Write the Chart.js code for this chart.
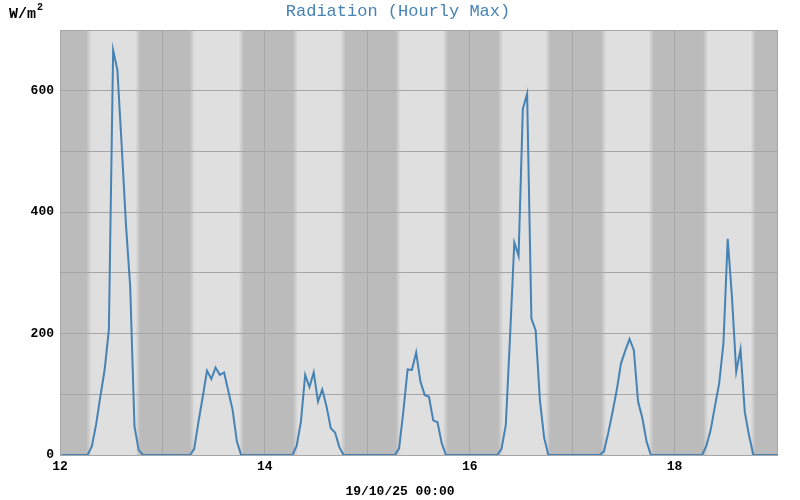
<!DOCTYPE html>
<html>
<head>
<meta charset="utf-8">
<script src="https://cdn.jsdelivr.net/npm/chart.js@4/dist/chart.umd.min.js"></script>
<style>
  body { margin: 0; background: #fff; }
  canvas { display: block; }
</style>
</head>
<body>
<canvas id="radChart" width="800" height="500"></canvas>
<script>
// 1時間ごとの最大日射量 (W/m²) 各日 00時〜23時
const day12 = [0,0,0,0,0,0,0,14,50,96,140,206,667,634,510,380,277,47,8,0,0,0,0,0];
const day13 = [0,0,0,0,0,0,0,10,55,96,139,125,144,132,136,105,74,22,0,0,0,0,0,0];
const day14 = [0,0,0,0,0,0,0,15,55,132,112,136,88,108,80,44,37,13,0,0,0,0,0,0];
const day15 = [0,0,0,0,0,0,0,11,72,141,140,169,121,99,96,57,54,19,0,0,0,0,0,0];
const day16 = [0,0,0,0,0,0,0,10,49,195,350,328,570,595,225,205,90,28,0,0,0,0,0,0];
const day17 = [0,0,0,0,0,0,0,6,36,70,107,151,172,191,173,88,61,22,0,0,0,0,0,0];
const day18 = [0,0,0,0,0,0,0,15,41,80,118,184,356,260,137,174,71,32,0,0,0,0,0,0];
const day19 = [0];

const firstDay = 12;
const sampleOffset = 0.45; // 各時間の記録位置 (時)

// 日の出・日の入り (時)
const sunrise = [6.65, 6.85, 7.05, 7.1, 7.1, 7.25, 7.15];
const sunset  = [18.35, 18.6, 18.45, 18.45, 18.45, 18.65, 18.5];

const yTicks = [0, 200, 400, 600];
const xTickLabels = [12, 14, 16, 18];

const titleText = 'Radiation (Hourly Max)';
const unitText = 'W/m';
const dateText = '19/10/25 00:00';

const hourly = [].concat(day12, day13, day14, day15, day16, day17, day18, day19);
const points = hourly.map((v, i) => ({ x: firstDay + (i + sampleOffset) / 24, y: v }));

const monoFont = '"Liberation Mono", "DejaVu Sans Mono", monospace';
const lineColor = '#4682b4';

// --- 昼夜の背景 ---
const shadingPlugin = {
    id: 'shading',
    beforeDraw(chart) {
        const { ctx, chartArea: a, scales: { x } } = chart;
        ctx.save();
        ctx.fillStyle = '#bbbbbb';
        ctx.fillRect(a.left, a.top, a.right - a.left, a.bottom - a.top);
        sunrise.forEach((rise, d) => {
            const p0 = x.getPixelForValue(firstDay + d + rise / 24);
            const p1 = x.getPixelForValue(firstDay + d + sunset[d] / 24);
            const g0 = p0 - 2, g1 = p1 + 2;
            const w = g1 - g0;
            const grad = ctx.createLinearGradient(g0, 0, g1, 0);
            grad.addColorStop(0, '#bbbbbb');
            grad.addColorStop(5 / w, '#dfdfdf');
            grad.addColorStop(1 - 5 / w, '#dfdfdf');
            grad.addColorStop(1, '#bbbbbb');
            ctx.fillStyle = grad;
            ctx.fillRect(g0, a.top, w, a.bottom - a.top);
        });
        ctx.restore();
    }
};

// --- タイトルなどのテキスト ---
const textPlugin = {
    id: 'texts',
    afterDraw(chart) {
        const ctx = chart.ctx;
        ctx.save();
        ctx.textBaseline = 'middle';
        ctx.textAlign = 'center';
        ctx.fillStyle = lineColor;
        ctx.font = '17px ' + monoFont;
        ctx.fillText(titleText, 398, 11);

        // 単位 W/m² (2 は上付き)
        ctx.fillStyle = '#000';
        ctx.textAlign = 'left';
        ctx.font = 'bold 15px ' + monoFont;
        ctx.fillText(unitText, 9, 14);
        const w = ctx.measureText(unitText).width;
        ctx.font = 'bold 10px ' + monoFont;
        ctx.fillText('2', 9 + w + 1, 7);

        ctx.textAlign = 'center';
        ctx.font = 'bold 13px ' + monoFont;
        ctx.fillText(dateText, 400, 492);
        ctx.restore();
    }
};

const ctx = document.getElementById('radChart').getContext('2d');
new Chart(ctx, {
    type: 'line',
    data: {
        datasets: [{
            data: points,
            borderColor: lineColor,
            borderWidth: 2,
            pointRadius: 0,
            tension: 0,
            fill: false
        }]
    },
    options: {
        responsive: false,
        animation: false,
        devicePixelRatio: 1,
        layout: { padding: { top: 30, right: 23, left: 0, bottom: 0 } },
        plugins: { legend: { display: false }, tooltip: { enabled: false } },
        scales: {
            x: {
                type: 'linear',
                min: 12,
                max: 19,
                afterFit: s => { s.height = 45; },
                grid: { color: '#a6a6a6', drawTicks: false },
                border: { color: '#a6a6a6' },
                ticks: {
                    stepSize: 1,
                    autoSkip: false,
                    maxRotation: 0,
                    padding: 4,
                    color: '#000',
                    font: { family: monoFont, size: 13, weight: 'bold' },
                    callback: v => xTickLabels.includes(v) ? String(v) : ''
                }
            },
            y: {
                min: 0,
                max: 700,
                afterFit: s => { s.width = 60; },
                grid: { color: '#a6a6a6', drawTicks: false },
                border: { color: '#a6a6a6' },
                ticks: {
                    stepSize: 100,
                    padding: 6,
                    color: '#000',
                    font: { family: monoFont, size: 13, weight: 'bold' },
                    callback: v => yTicks.includes(v) ? String(v) : ''
                }
            }
        }
    },
    plugins: [shadingPlugin, textPlugin]
});
</script>
</body>
</html>
